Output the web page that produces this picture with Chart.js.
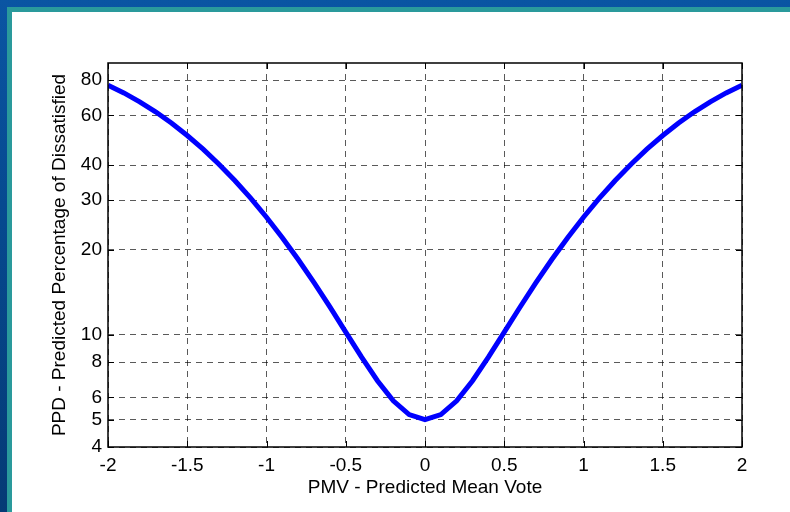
<!DOCTYPE html>
<html>
<head>
<meta charset="utf-8">
<script src="https://cdn.jsdelivr.net/npm/chart.js@4.4.0/dist/chart.umd.min.js"></script>
<style>
  html, body { margin: 0; padding: 0; width: 790px; height: 512px; overflow: hidden; }
  body { background: linear-gradient(180deg, #0a55a3 0%, #064a90 40%, #053a75 100%); position: relative; }
  .frame { position: absolute; left: 7px; top: 7px; right: -10px; bottom: -10px; background: #2a9a9c; }
  .panel { position: absolute; left: 12px; top: 12px; right: 0; bottom: 0; background: #ffffff; }
  canvas { position: absolute; left: 0; top: 0; }
</style>
</head>
<body>
<div class="frame"></div>
<div class="panel"></div>
<canvas id="chart" width="790" height="512"></canvas>
<script>
// PMV values along the x axis
const pmv = [-2, -1.9, -1.8, -1.7, -1.6, -1.5, -1.4, -1.3, -1.2, -1.1, -1,
  -0.9, -0.8, -0.7, -0.6, -0.5, -0.4, -0.3, -0.2, -0.1, 0,
  0.1, 0.2, 0.3, 0.4, 0.5, 0.6, 0.7, 0.8, 0.9, 1,
  1.1, 1.2, 1.3, 1.4, 1.5, 1.6, 1.7, 1.8, 1.9, 2];

// PPD values
const ppd = [76.76, 72.05, 67.02, 61.75, 56.34, 50.90, 45.51, 40.27, 35.25, 30.51, 26.12,
  22.10, 18.49, 15.30, 12.55, 10.22, 8.33, 6.87, 5.83, 5.21, 5.00,
  5.21, 5.83, 6.87, 8.33, 10.22, 12.55, 15.30, 18.49, 22.10, 26.12,
  30.51, 35.25, 40.27, 45.51, 50.90, 56.34, 61.75, 67.02, 72.05, 76.76];

const xTicks = [-2, -1.5, -1, -0.5, 0, 0.5, 1, 1.5, 2];
const yTicks = [4, 5, 6, 8, 10, 20, 30, 40, 60, 80];

const fontFamily = "'Liberation Sans', Arial, sans-serif";

// box around the axes with inward tick marks, like matlab
const boxPlugin = {
  id: "box",
  afterDraw(chart) {
    const { ctx, chartArea: a, scales } = chart;
    const len = 6;
    ctx.save();
    ctx.strokeStyle = "#000";
    ctx.lineWidth = 1;
    ctx.setLineDash([]);
    ctx.beginPath();
    xTicks.forEach((v) => {
      const x = Math.round(scales.x.getPixelForValue(v)) + 0.5;
      ctx.moveTo(x, a.bottom);
      ctx.lineTo(x, a.bottom - len);
      ctx.moveTo(x, a.top);
      ctx.lineTo(x, a.top + len);
    });
    yTicks.forEach((v) => {
      const y = Math.round(scales.y.getPixelForValue(v)) + 0.5;
      ctx.moveTo(a.left, y);
      ctx.lineTo(a.left + len, y);
      ctx.moveTo(a.right, y);
      ctx.lineTo(a.right - len, y);
    });
    ctx.stroke();
    ctx.lineWidth = 1.5;
    ctx.strokeRect(a.left, a.top, a.right - a.left, a.bottom - a.top);
    ctx.restore();
  },
};

new Chart(document.getElementById("chart"), {
  type: "line",
  data: {
    datasets: [
      {
        data: pmv.map((x, i) => ({ x: x, y: ppd[i] })),
        borderColor: "#0000ff",
        borderWidth: 5,
        pointRadius: 0,
        tension: 0,
        fill: false,
      },
    ],
  },
  options: {
    responsive: false,
    animation: false,
    devicePixelRatio: 1,
    layout: { padding: { left: 0, top: 63, right: 48, bottom: 0 } },
    plugins: { legend: { display: false }, tooltip: { enabled: false } },
    scales: {
      x: {
        type: "linear",
        min: -2,
        max: 2,
        afterBuildTicks: (scale) => {
          scale.ticks = xTicks.map((v) => ({ value: v }));
        },
        afterFit: (scale) => {
          scale.height = 65;
        },
        ticks: {
          autoSkip: false,
          maxRotation: 0,
          padding: 7,
          color: "#000",
          font: { family: fontFamily, size: 19 },
          callback: (v) => String(v),
        },
        grid: {
          color: "rgba(0,0,0,0.65)",
          lineWidth: 1,
          drawTicks: false,
          tickLength: 0,
        },
        border: { display: false, dash: [6, 5] },
        title: {
          display: true,
          text: "PMV - Predicted Mean Vote",
          color: "#000",
          font: { family: fontFamily, size: 19 },
          padding: { top: 0, bottom: 13 },
        },
      },
      y: {
        type: "logarithmic",
        min: 4,
        max: 92,
        afterBuildTicks: (scale) => {
          scale.ticks = yTicks.map((v) => ({ value: v }));
        },
        afterFit: (scale) => {
          scale.width = 108;
        },
        ticks: {
          autoSkip: false,
          padding: 6,
          color: "#000",
          font: { family: fontFamily, size: 19 },
          callback: (v) => String(v),
        },
        grid: {
          color: "rgba(0,0,0,0.65)",
          lineWidth: 1,
          drawTicks: false,
          tickLength: 0,
        },
        border: { display: false, dash: [6, 5] },
        title: {
          display: true,
          text: "PPD - Predicted Percentage of Dissatisfied",
          color: "#000",
          font: { family: fontFamily, size: 19 },
          padding: { top: 48, bottom: 0 },
        },
      },
    },
  },
  plugins: [boxPlugin],
});
</script>
</body>
</html>
